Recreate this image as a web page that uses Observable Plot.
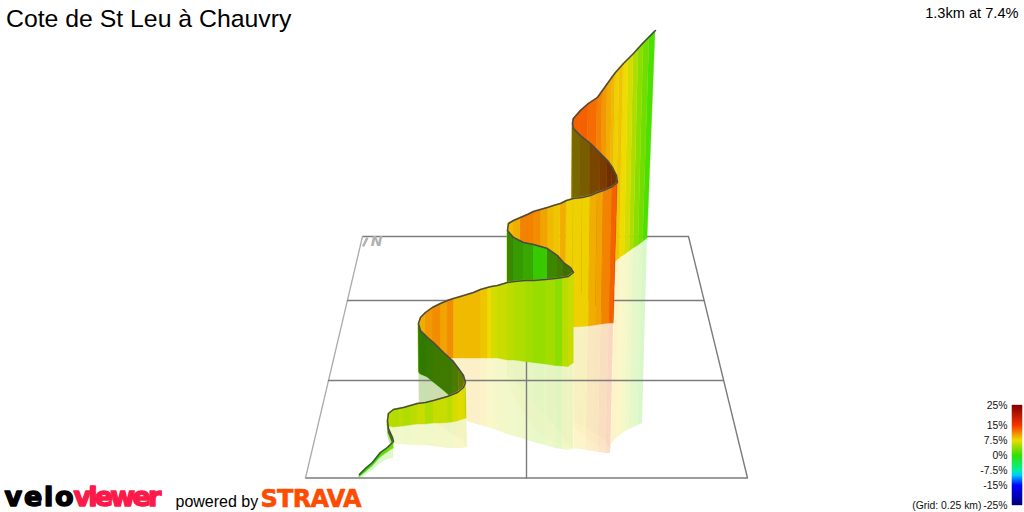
<!DOCTYPE html>
<html><head><meta charset="utf-8">
<script src="https://cdn.jsdelivr.net/npm/d3@7"></script>
<script src="https://cdn.jsdelivr.net/npm/@observablehq/plot@0.6"></script>
<style>html,body{margin:0;padding:0;background:#fff;overflow:hidden}
.velo text{letter-spacing:1.8px}.viewer text{letter-spacing:-2.8px}.strava text{letter-spacing:-0.7px}</style>
</head><body><div id="chart"></div>
<script>
// Route: top of the curtain (elevation line)
const topX=[359,365,372,380,387,393,392,388,387,388,393,398,403,410,417,425,433,440,447,452,457,463,465,463,458,452,443,433,427,420,418,420,425,432,440,447,453,460,473,480,487,491,497,507,514,525,533,545,555,562,568,573,570,563,557,547,540,533,523,513,507,508,513,520,527,533,540,547,553,560,566,573,582,590,597,603,612,617,616,612,607,600,590,580,573,572,573,580,588,597,602,607,612,615,619,623,628,633,638,643,649,655];
const topY=[474,468,462,452,447,441,437,428,420,413,409,408,407,405,403,402,400,398,396,394,392,387,382,375,368,360,352,342,337,330,323,317,312,307,303,300,298,296,292,289,287,286,285,282,281,280,280,279,278,277,276,272,267,262,255,248,246,244,242,237,230,223,220,217,214,211,209,207,205,203,200,198,197,195,192,190,186,182,175,167,160,153,143,135,128,123,118,110,103,97,90,83,76,72,67.5,63,58,53,47.5,42,36,30];
// Foot of the curtain on the ground
const baseX=[359,365,372,380,387,393,392,388,387,388,393,398,403,410,417,425,433,440,447,452,457,463,466,464,459,452,443,433,427,420,418.5,420,425,432,440,447,453,460,473,480,487,491,497,507,514,525,533,545,555,562,568,573,570,563,557,547,540,533,523,513,507,508,513,520,527,533,540,547,553,559,565,572,581,588,595,601,609,613,612,609,604,597.5,588,578,572,571,572,579,586,594,599,604,608,611,615,619,624,629,633,638,642.5,647];
const baseY=[477,472,466,457,452,448,443,433,425,426,427,426.5,426,425,424,424,423,423,422.5,422,421,419,418,409,404,398,390,382,377,374,372,368,365,361,359,358,358,358,358,358,358,358,358,360,360,361.5,362.5,364,365.5,366,366.5,363,360,352,344,335,330,325,318,310,305,306,310,314,318,322,324,325,325.5,326,326.5,327,326.5,326,325,324,323,323,322,319,314,308,299,291,285,282,281,278,275,272,270,268,266,265,261.5,258,254.5,251,248,245,241.5,238];
// Lower edge of the pale mirror image
const mirrorX=[359,365,372,380,387,393,392,388,387,388,393,398,403,410,417,425,433,440,447,452,457,463,467,465,459,452,444,433,427,420,419,421,426,432,441,448,453,460,473,480,487,491,497,507,514,525,533,545,555,562,568,573,570,563,557,547,540,533,523,513,507,508,513,520,527,533,540,547,553,558,564,571,579,586,593,598,606,610,609,606,602,595,586,577,571,571,572,578,585,592,597,601,604,607,611,616,620,625,629,633.5,638,642];
const mirrorY=[480,475,470,463,459,458,449,439,433,438,443,444,444,445,445,445,446,447,448,448,448,448,447,443,438,434,428,422,419,416,417,415,415,415,416,417,418,419,423,425,427,428,430,434,436,439,442,445,448,449,450,449,447,437,428,418,410,402,390,379,376,377,395,406,418,427,433,437,440,443,445,448,449,450,451,452,453,453,447,442,438,434,428,424,421,420,424,430,437,443,445,446,446,447,444,438,435,431,429,427,425,423];
// Gradient (%) of each stretch between two route points
const grade=[0.5,0.5,0.5,1.5,2.5,2,2,2,5,5.5,5,5.5,5,5.5,6,5,6,6,5.5,6.5,7,6.5,6,5,3.5,2.5,2.5,2,1.5,1.5,8,9.5,10.5,11,10,11,9,9,9,8.5,7.5,6.5,6,5.5,5,4.5,4,4.5,3.5,5.5,6,4,3,3,2,0.5,0.5,1,1,2,7,9,9.5,11.5,11.5,11,10,9,8.5,9.5,8,8,8,9.5,10,11.5,13,13,12.5,12.5,12,11,9,8,8,12.5,13,13,12.5,11.5,10.5,9.5,9,8,8.5,7.5,6.5,5,3.5,2.5,1];
// How far each stretch is in shadow (back faces of the curtain)
const shade=[0,0,0,0,0,.45,.45,.45,0,0,0,0,0,0,0,0,0,0,0,0,0,0,.45,.45,.45,.45,.45,.45,.45,.45,0,0,0,0,0,0,0,0,0,0,0,0,0,0,0,0,0,0,0,0,0,.5,.5,.45,.4,.1,.1,.25,.3,.4,0,0,0,0,0,0,0,0,0,0,0,0,0,0,0,0,0,.55,.55,.55,.5,.5,.5,.5,.5,0,0,0,0,0,0,0,0,0,0,0,0,0,0,0,0];
// Ground grid
const gridCorners=[[362,236],[688,236],[747,477.5],[305,477.5],[362,236]];
const gridRows=[[[347,300],[703.5,300]],[[328,380],[723,380]]];
const gridColumn=[[526,236],[526,477.5]];
const northArrow=[[363,245],[366.5,238]];
// Colour key
const gradeStops=[-25,-15,-10,-7.5,0,7.5,15,25];
const gradeColors=["#00007a","#0000ff","#00c8ff","#00f0a0","#33e000","#eedb00","#f83400","#800000"];
const keyLabels=[25,15,7.5,0,-7.5,-15,-25];
// Text
const titleText="Cote de St Leu à Chauvry";
const summaryText="1.3km at 7.4%";
const gridNote="(Grid: 0.25 km)";

// Curtain stretches, split in runs of lit and shaded faces, painted far end first.
const rows=s=>[s,s+1].map(i=>({seg:s,grade:grade[s],shade:shade[s],
  tx:topX[i],ty:topY[i],bx:baseX[i],by:baseY[i],mx:mirrorX[i],my:mirrorY[i]}));
const runs=[];
d3.range(grade.length).reverse().forEach(s=>{
  const last=runs[runs.length-1];
  if(last&&(last.shaded===(shade[s]>0))) last.rows.push(...rows(s));
  else runs.push({shaded:shade[s]>0,rows:rows(s)});
});
const route=topX.map((x,i)=>({x,y:topY[i]}));
const keyY=d3.scaleLinear().domain([-25,25]).range([505,405]);
const keyBands=d3.range(-25,25,0.5);
const line=(pts,opt)=>Plot.line(pts,{x:d=>d[0],y:d=>d[1],...opt});
const gridStyle={stroke:"#7c7c7c",strokeWidth:1.4};
const mirror={x1:"bx",y1:"by",x2:"mx",y2:"my",z:"seg"};
const curtain={x1:"tx",y1:"ty",x2:"bx",y2:"by",z:"seg"};

const plot=Plot.plot({
  width:1024,height:512,margin:0,
  style:{fontFamily:"'Liberation Sans',Arial,sans-serif",background:"#fff",color:"#000"},
  x:{domain:[0,1024],range:[0,1024],axis:null},
  y:{domain:[0,512],range:[0,512],axis:null},
  color:{type:"linear",domain:gradeStops,range:gradeColors},
  marks:[
    ...runs.flatMap(r=>[
      Plot.area(r.rows,{...mirror,fill:"#fff",stroke:"#fff",strokeWidth:0.3,fillOpacity:0.85}),
      Plot.area(r.rows,{...mirror,fill:"grade",fillOpacity:0.21}),
      ...(r.shaded?[Plot.area(r.rows,{...mirror,fill:"#000",fillOpacity:{value:d=>d.shade*0.2,scale:null}})]:[])
    ]),
    line(gridCorners.slice(0,4),gridStyle),
    line(gridCorners.slice(3),{stroke:"#ababab",strokeWidth:1.3}),
    ...gridRows.map(r=>line(r,gridStyle)),
    line(gridColumn,gridStyle),
    line(northArrow,{stroke:"#b4b4b4",strokeWidth:2.6}),
    Plot.text(["N"],{x:()=>376,y:()=>241.5,text:d=>d,fill:"#b0b0b0",fontSize:14,fontWeight:"bold",fontStyle:"italic",fontFamily:"'DejaVu Sans'"}),
    ...runs.flatMap(r=>[
      Plot.area(r.rows,{...curtain,fill:"grade",stroke:"grade",strokeWidth:0.4}),
      ...(r.shaded?[Plot.area(r.rows,{...curtain,fill:"#000",fillOpacity:{value:"shade",scale:null}})]:[])
    ]),
    Plot.line(route,{x:"x",y:"y",stroke:"#4a4a4a",strokeWidth:1.5,strokeLinejoin:"round"}),
    Plot.rect(keyBands,{x1:()=>1012,x2:()=>1022,y1:d=>keyY(d),y2:d=>keyY(d+0.5),fill:d=>d+0.25,inset:-0.2}),
    Plot.text(keyLabels,{x:()=>1007,y:d=>keyY(d),text:d=>d+"%",textAnchor:"end",fontSize:10.4,fill:"#111"}),
    Plot.text([gridNote],{x:()=>981,y:()=>505,text:d=>d,textAnchor:"end",fontSize:10.4,fill:"#111"}),
    Plot.text([titleText],{x:()=>5.5,y:()=>19,text:d=>d,textAnchor:"start",fontSize:24.8,fill:"#000"}),
    Plot.text([summaryText],{x:()=>1018,y:()=>13,text:d=>d,textAnchor:"end",fontSize:14.6,fill:"#000"}),
    Plot.text(["velo"],{className:"velo",x:()=>4,y:()=>497,text:d=>d,textAnchor:"start",fontFamily:"'DejaVu Sans'",fontWeight:"bold",fontSize:27,fill:"#000",stroke:"#000",strokeWidth:1.5}),
    Plot.text(["viewer"],{className:"viewer",x:()=>73,y:()=>497,text:d=>d,textAnchor:"start",fontFamily:"'DejaVu Sans'",fontWeight:"bold",fontSize:27,fill:"#fc1a4a",stroke:"#fc1a4a",strokeWidth:1.5}),
    Plot.text(["powered by"],{x:()=>175,y:()=>501,text:d=>d,textAnchor:"start",fontSize:16,fill:"#000"}),
    Plot.text(["STRAVA"],{className:"strava",x:()=>260,y:()=>498.5,text:d=>d,textAnchor:"start",fontFamily:"'DejaVu Sans'",fontWeight:"bold",fontSize:24,fill:"#fc4c02",stroke:"#fc4c02",strokeWidth:0.6})
  ]
});
document.getElementById("chart").append(plot);
</script></body></html>
